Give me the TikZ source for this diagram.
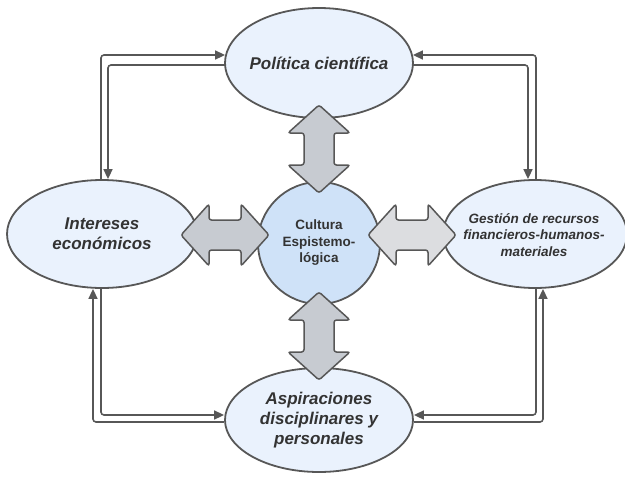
\documentclass[tikz,border=0pt]{standalone}
\usepackage{fontspec}
\setmainfont{Liberation Sans}
\usetikzlibrary{shapes.geometric,arrows.meta,calc}
\definecolor{ellfill}{HTML}{EAF2FD}
\definecolor{cirfill}{HTML}{CFE2F8}
\definecolor{edge}{HTML}{575757}
\definecolor{blkfill}{HTML}{C7CBD1}
\definecolor{blkfillb}{HTML}{DCDDE0}
\definecolor{txtc}{HTML}{333333}
\tikzset{
  ell/.style={ellipse, draw=edge, line width=1.8pt, fill=ellfill, inner sep=0pt},
  cir/.style={circle, draw=edge, line width=1.8pt, fill=cirfill, inner sep=0pt, minimum size=122pt},
  bigtxt/.style={text=txtc, align=center, font=\fontsize{17}{20}\selectfont\bfseries\itshape},
  smalltxt/.style={text=txtc, align=center, font=\fontsize{13.5}{16.5}\selectfont\bfseries\itshape},
  ctrtxt/.style={text=txtc, align=center, font=\fontsize{13.5}{16.5}\selectfont\bfseries},
  conn/.style={draw=edge, line width=1.6pt, rounded corners=3pt, -{Triangle[length=10pt,width=9pt]}},
  blk/.style={draw=edge, line width=1.5pt, rounded corners=2.5pt, fill=blkfill},
  dblarrow/.pic={
    \path[pic actions] (-44,0) -- (-16,-31) -- (-16,-15) -- (16,-15) -- (16,-31)
      -- (44,0) -- (16,31) -- (16,15) -- (-16,15) -- (-16,31) -- cycle;
  }
}
\begin{document}
\begin{tikzpicture}[x=1pt,y=-1pt]
\useasboundingbox (0,0) rectangle (625,477);
% ellipses
\node[ell, minimum width=188pt, minimum height=110pt] (T) at (319,63) {};
\node[bigtxt] (Tt) at (T) {Política científica};
\node[ell, minimum width=190pt, minimum height=108pt] (L) at (102,234) {};
\node[bigtxt] (Lt) at (L) {Intereses\\económicos};
\node[ell, minimum width=184pt, minimum height=108pt] (R) at (535,234) {};
\node[smalltxt] (Rt) at (534,235) {Gestión de recursos\\financieros-humanos-\\materiales};
\node[ell, minimum width=188pt, minimum height=104pt] (B) at (319,420) {};
\node[bigtxt] (Bt) at (B) {Aspiraciones\\disciplinares y\\personales};
% centre
\node[cir] (C) at (319,243) {};
\node[ctrtxt] (Ct) at (C) {Cultura\\Espistemo-\\lógica};
% connectors
\draw[conn] ($(L.north)+(-1,0)$) |- ($(T.west)+(1,-8)$);
\draw[conn] ($(T.west)+(1,2)$) -| ($(L.north)+(6,0)$);
\draw[conn] ($(R.north)+(1,0)$) |- ($(T.east)+(-1,-8)$);
\draw[conn] ($(T.east)+(-1,2)$) -| ($(R.north)+(-7,0)$);
\draw[conn] ($(L.south)+(-1,0)$) |- ($(B.west)+(0,-5)$);
\draw[conn] ($(B.west)+(0,2)$) -| ($(L.south)+(-9,0)$);
\draw[conn] ($(R.south)+(1,0)$) |- ($(B.east)+(0,-5)$);
\draw[conn] ($(B.east)+(0,2)$) -| ($(R.south)+(8,0)$);
% block arrows
\pic[blk, rotate=90] at (319,149) {dblarrow};
\pic[blk, rotate=90] at (319,336) {dblarrow};
\pic[blk] at (225,235) {dblarrow};
\pic[blk, fill=blkfillb] at (412,235) {dblarrow};
\end{tikzpicture}
\end{document}
